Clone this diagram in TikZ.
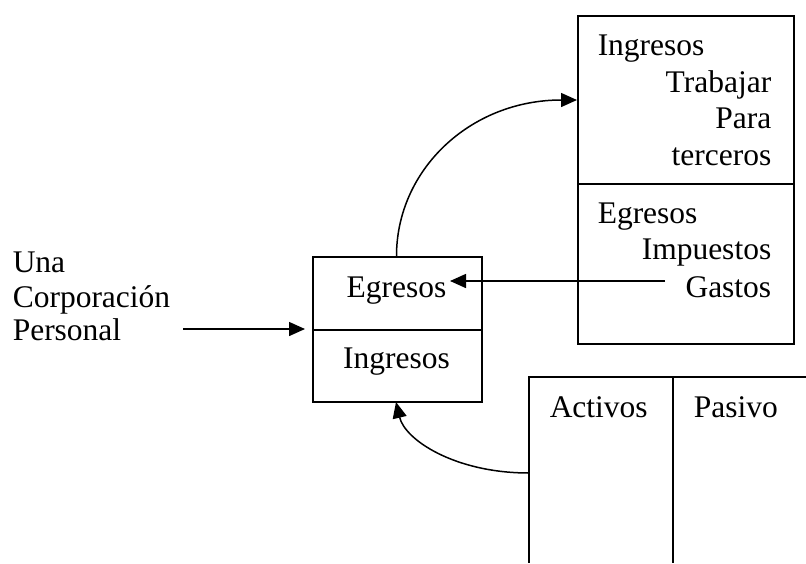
\documentclass[tikz,border=0pt]{standalone}
\usepackage{fontspec}
\setmainfont{Liberation Serif}
\usetikzlibrary{arrows.meta}
\begin{document}
\begin{tikzpicture}[x=1pt,y=-1pt,line width=1.5pt,
  txt/.style={inner sep=0pt,font=\fontsize{31.5}{37}\selectfont},
  box/.style={draw,line width=1.5pt,inner sep=0pt,anchor=north west},
  arr/.style={-{Triangle[length=16pt,width=14pt]}}]
\useasboundingbox (0,0) rectangle (806,563);
% top-right box
\node[box,minimum width=216pt,minimum height=168pt] (topA) at (577,15) {};
\node[box,minimum width=216pt,minimum height=160pt] (topB) at (577,183) {};
\node[txt,anchor=base west] (ting) at (597,55) {Ingresos};
\node[txt,anchor=base east] (ttrab) at (772,92) {Trabajar};
\node[txt,anchor=base east] (tpara) at (772,128) {Para};
\node[txt,anchor=base east] (tterc) at (772,165) {terceros};
\node[txt,anchor=base west] (tegr) at (597,223) {Egresos};
\node[txt,anchor=base east] (timp) at (772,259) {Impuestos};
\node[txt,anchor=base east] (tgas) at (772,297) {Gastos};
% middle box
\node[box,minimum width=169pt,minimum height=73pt] (midA) at (312,256) {};
\node[box,minimum width=169pt,minimum height=72pt] (midB) at (312,329) {};
\node[txt,anchor=base] (megr) at (396.5,297) {Egresos};
\node[txt,anchor=base] (ming) at (396.5,368) {Ingresos};
% left text
\node[txt,anchor=base west] (luna) at (12,272) {Una};
\node[txt,anchor=base west] (lcor) at (12,307) {Corporación};
\node[txt,anchor=base west] (lper) at (12,340) {Personal};
% bottom table
\coordinate (btl) at (529,377);
\coordinate (btr) at (806,377);
\coordinate (bbl) at (529,563);
\coordinate (bdt) at (673,377);
\coordinate (bdb) at (673,563);
\draw (btr) -- (btl) -- (bbl);
\draw (bdt) -- (bdb);
\node[txt,anchor=base west] (bact) at (549,417) {Activos};
\node[txt,anchor=base west] (bpas) at (693,417) {Pasivo};
% connectors
\coordinate (lsrc) at (183,329);
\coordinate (ltip) at (305,329);
\draw[arr] (lsrc) -- (ltip);
\coordinate (gsrc) at (665,281);
\coordinate (gtip) at (450,281);
\draw[arr] (gsrc) -- (gtip);
\coordinate (usrc) at (396.5,256);
\coordinate (utip) at (577,100);
\draw[arr] (usrc) .. controls (396.5,170) and (470,100) .. (utip);
\coordinate (dsrc) at (529,473);
\coordinate (dtip) at (396,402);
\draw[arr] (dsrc) .. controls (455,473) and (405,440) .. (dtip);
\end{tikzpicture}
\end{document}
